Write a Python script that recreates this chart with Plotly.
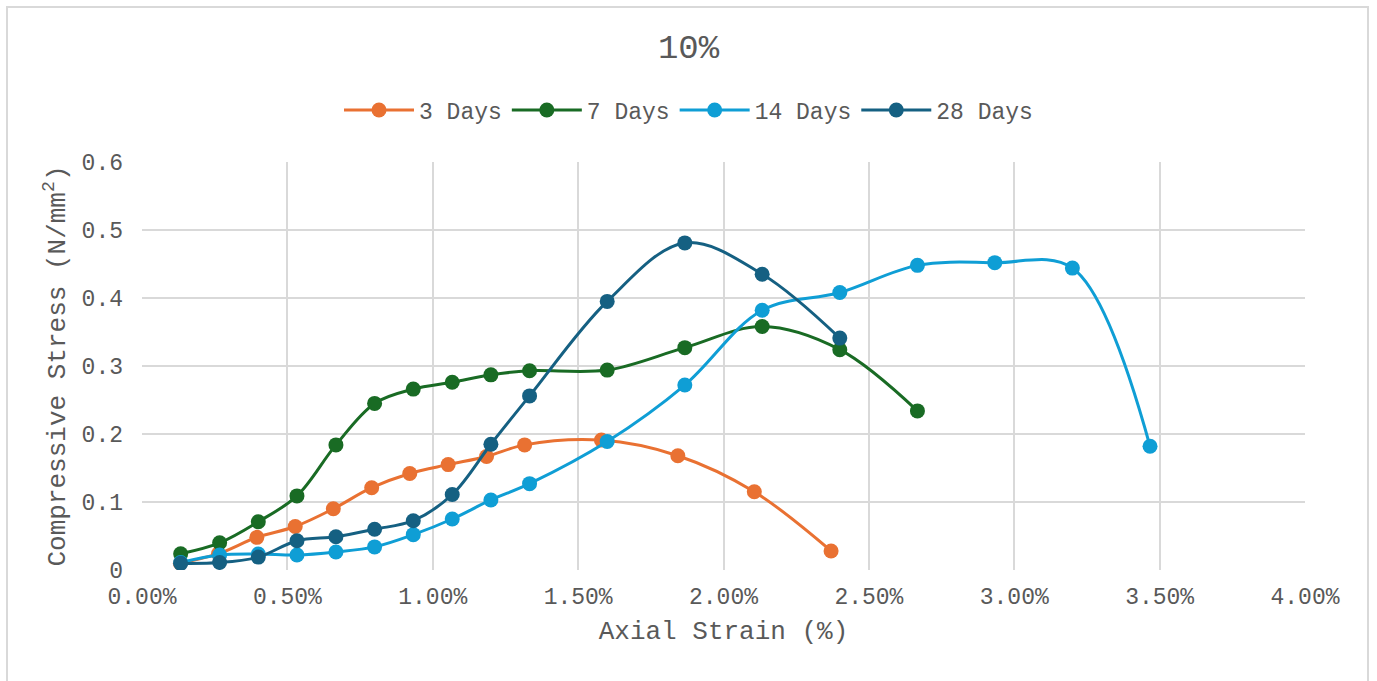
import plotly.graph_objects as go

# Axial strain (%) and compressive stress (N/mm²) per curing age
strain_3 = [0.132, 0.263, 0.395, 0.527, 0.658, 0.790, 0.921, 1.053, 1.185, 1.316,
            1.580, 1.843, 2.106, 2.370]
stress_3 = [0.010, 0.024, 0.048, 0.064, 0.090, 0.121, 0.142, 0.155, 0.167, 0.184,
            0.191, 0.168, 0.115, 0.028]

strain_7 = [0.133, 0.267, 0.400, 0.533, 0.667, 0.800, 0.933, 1.067, 1.200, 1.333,
            1.600, 1.867, 2.133, 2.400, 2.667]
stress_7 = [0.024, 0.040, 0.071, 0.109, 0.184, 0.245, 0.266, 0.276, 0.287, 0.293,
            0.294, 0.327, 0.358, 0.324, 0.234]

strain_14 = [0.133, 0.267, 0.400, 0.533, 0.667, 0.800, 0.933, 1.067, 1.200, 1.333,
             1.600, 1.867, 2.133, 2.400, 2.667, 2.933, 3.200, 3.467]
stress_14 = [0.011, 0.022, 0.0235, 0.022, 0.0265, 0.034, 0.052, 0.075, 0.103, 0.127,
             0.189, 0.272, 0.382, 0.408, 0.448, 0.452, 0.444, 0.182]

strain_28 = [0.133, 0.267, 0.400, 0.533, 0.667, 0.800, 0.933, 1.067, 1.200, 1.333,
             1.600, 1.867, 2.133, 2.400]
stress_28 = [0.0098, 0.011, 0.019, 0.043, 0.049, 0.060, 0.0725, 0.111, 0.185, 0.256,
             0.395, 0.481, 0.435, 0.341]

series = [
    ("3 Days", strain_3, stress_3, "#E97132"),
    ("7 Days", strain_7, stress_7, "#196B24"),
    ("14 Days", strain_14, stress_14, "#0F9ED5"),
    ("28 Days", strain_28, stress_28, "#156082"),
]

FONT = "Liberation Mono, Courier New, monospace"
GREY = "#595959"

fig = go.Figure()
for name, xs, ys, color in series:
    fig.add_trace(go.Scatter(
        x=xs, y=ys, name=name, mode="lines+markers",
        line=dict(color=color, width=3, shape="spline", smoothing=1.0),
        marker=dict(color=color, size=15),
    ))

fig.update_layout(
    width=1377, height=681,
    paper_bgcolor="white", plot_bgcolor="white",
    margin=dict(l=142, r=72, t=162, b=111, autoexpand=False),
    font=dict(family=FONT, color=GREY, size=23),
    title=dict(text="10%", x=0.5, xref="container", xanchor="center",
               y=1 - 46 / 681, yref="container", yanchor="middle",
               font=dict(family=FONT, size=34, color=GREY)),
    legend=dict(orientation="h", x=0.5, xref="container", xanchor="center",
                y=1 - 110 / 681, yref="container", yanchor="middle",
                font=dict(family=FONT, size=23, color=GREY),
                itemwidth=70, bgcolor="rgba(0,0,0,0)"),
    showlegend=True,
)

fig.update_xaxes(
    range=[0, 4], dtick=0.5, tick0=0, tickformat=".2f", ticksuffix="%",
    showgrid=True, gridcolor="#D9D9D9", gridwidth=2,
    showline=False, zeroline=False, ticks="", ticklabelstandoff=10,
    title=dict(text="Axial Strain (%)", standoff=10,
               font=dict(family=FONT, size=26, color=GREY)),
    tickfont=dict(family=FONT, size=23, color=GREY),
)
fig.update_yaxes(
    range=[0, 0.6], dtick=0.1, tick0=0,
    showgrid=True, gridcolor="#D9D9D9", gridwidth=2,
    showline=False, zeroline=False, ticks="", ticklabelstandoff=18,
    title=dict(text="Compressive Stress (N/mm<sup>2</sup>)", standoff=8,
               font=dict(family=FONT, size=26, color=GREY)),
    tickfont=dict(family=FONT, size=23, color=GREY),
)

# light frame around the whole chart area
W, H = 1163, 408
fig.add_shape(type="path", xref="paper", yref="paper",
              path=f"M {(7-142)/W},{(570-690)/H} L {(7-142)/W},{(570-7)/H} "
                   f"L {(1368-142)/W},{(570-7)/H} L {(1368-142)/W},{(570-690)/H}",
              line=dict(color="#D9D9D9", width=2), layer="below")

fig.write_html("out.html")
